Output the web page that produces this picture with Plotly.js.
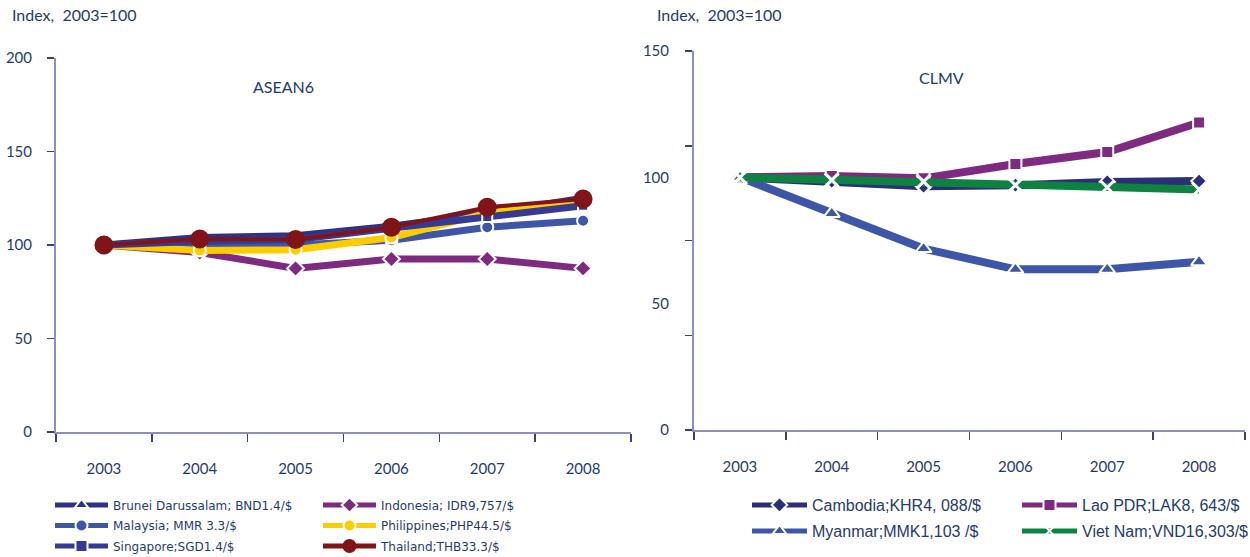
<!DOCTYPE html>
<html>
<head>
<meta charset="utf-8">
<script src="https://cdn.plot.ly/plotly-3.0.1.min.js"></script>
<style>html,body{margin:0;padding:0;background:#fff}#chart{width:1250px;height:557px}</style>
</head>
<body>
<div id="chart"></div>
<script>
// ---- data ----
var years = ['2003', '2004', '2005', '2006', '2007', '2008'];

// ASEAN6 (Index, 2003 = 100)
var brunei      = [100, 104, 105, 110, 117, 125];
var indonesia   = [100, 96, 87.5, 92.5, 92.5, 87.5];
var malaysia    = [100, 100, 100, 102.5, 109.5, 113];
var philippines = [100, 97, 97.5, 104, 117, 123];
var singapore   = [100, 102, 103, 109, 115, 121];
var thailand    = [100, 103.2, 102.9, 109.5, 120.2, 124.6];

// CLMV (Index, 2003 = 100)
var cambodia = [100, 98.5, 96.5, 96.9, 98.2, 98.5];
var laopdr   = [100, 100.5, 99.6, 105.3, 110, 121.7];
var myanmar  = [100, 85.7, 71.8, 63.6, 63.6, 66.6];
var vietnam  = [100, 98.9, 98.3, 96.9, 96, 95.2];

var leftNames  = ['Brunei Darussalam; BND1.4/$', 'Indonesia; IDR9,757/$', 'Malaysia; MMR 3.3/$',
                  'Philippines;PHP44.5/$', 'Singapore;SGD1.4/$', 'Thailand;THB33.3/$'];
var rightNames = ['Cambodia;KHR4, 088/$', 'Lao PDR;LAK8, 643/$', 'Myanmar;MMK1,103 /$', 'Viet Nam;VND16,303/$'];

var leftYTicks   = [0, 50, 100, 150, 200];
var rightYLabels = [0, 50, 100, 150];
var rightYTicks  = [0, 37.5, 75, 112.5, 150];

// ---- styling ----
var NAVY = '#1F3A6E';
var AXIS = '#8C8FBF';
var TICK = '#3A3F80';
var tickFont = {family: 'Lato, "Open Sans", sans-serif', size: 15, color: NAVY};

function tr(y, name, color, width, symbol, msize, mcolor, mline, xa, ya, legend, lw) {
  var t = {
    type: 'scatter', mode: 'lines+markers', x: years, y: y, name: name,
    xaxis: xa, yaxis: ya, legend: legend,
    line: {color: color, width: width},
    marker: {symbol: symbol, size: msize, color: mcolor, line: {color: mline, width: 2}},
    hoverinfo: 'skip'
  };
  if (lw) t.legendwidth = lw;
  return t;
}

var data = [
  tr(brunei, leftNames[0], '#2E3184', 7, 'triangle-up', 11, '#2E3184', '#ffffff', 'x', 'y', 'legend'),
  tr(indonesia, leftNames[1], '#7E2A80', 7, 'diamond', 13, '#7E2A80', '#ffffff', 'x', 'y', 'legend', 190),
  tr(malaysia, leftNames[2], '#3D56A8', 7, 'circle', 12, '#3D56A8', '#ffffff', 'x', 'y', 'legend2'),
  tr(philippines, leftNames[3], '#FFCC00', 7, 'circle', 12, '#FFCC00', '#ffffff', 'x', 'y', 'legend2', 190),
  tr(singapore, leftNames[4], '#363A92', 7, 'square', 10, '#363A92', '#ffffff', 'x', 'y', 'legend3'),
  tr(thailand, leftNames[5], '#7F1518', 4, 'circle', 17, '#7F1518', '#7F1518', 'x', 'y', 'legend3', 190),

  tr(cambodia, rightNames[0], '#2B2F78', 8, 'diamond', 12, '#2B2F78', '#ffffff', 'x2', 'y2', 'legend4'),
  tr(laopdr, rightNames[1], '#7E2A80', 8, 'square', 12, '#7E2A80', '#ffffff', 'x2', 'y2', 'legend4', 172),
  tr(myanmar, rightNames[2], '#3D56A8', 8, 'triangle-up', 14, '#3D56A8', '#ffffff', 'x2', 'y2', 'legend5'),
  tr(vietnam, rightNames[3], '#0E8341', 8, 'x-thin-open', 14, '#ffffff', '#ffffff', 'x2', 'y2', 'legend5', 172)
];
data[9].marker.line = {color: '#ffffff', width: 3};

function xaxis(domain, anchor) {
  return {
    domain: domain, anchor: anchor, type: 'category', range: [-0.5, 5.5],
    showline: true, linecolor: AXIS, linewidth: 2, tickson: 'boundaries',
    ticks: 'outside', ticklen: 8, tickwidth: 1.5, tickcolor: TICK,
    showgrid: false, zeroline: false, tickfont: tickFont, ticklabelstandoff: 22,
    fixedrange: true, automargin: false
  };
}

var legBase = {
  orientation: 'h', xanchor: 'left', yanchor: 'middle', bgcolor: 'rgba(0,0,0,0)',
  itemsizing: 'constant', entrywidthmode: 'pixels',
  itemclick: false, itemdoubleclick: false
};
var leftLegFont  = {family: '"DejaVu Sans", Verdana, sans-serif', size: 12, color: NAVY};
var rightLegFont = {family: '"Liberation Sans", Arial, sans-serif', size: 16, color: NAVY};
function leg(x, y, font, iw, ew) {
  return Object.assign({}, legBase, {x: x, y: y, font: font, itemwidth: iw, entrywidth: ew});
}

var layout = {
  width: 1250, height: 557,
  margin: {l: 0, r: 0, t: 0, b: 0, autoexpand: false},
  paper_bgcolor: '#ffffff', plot_bgcolor: 'rgba(0,0,0,0)',
  showlegend: true,
  xaxis: xaxis([56 / 1250, 631 / 1250], 'y'),
  yaxis: {
    domain: [1 - 432 / 557, 1 - 58 / 557], anchor: 'x', range: [0, 200],
    tickvals: leftYTicks, showline: true, linecolor: AXIS, linewidth: 2,
    ticks: 'outside', ticklen: 7, tickwidth: 1.5, tickcolor: TICK,
    showgrid: false, zeroline: false, tickfont: tickFont, ticklabelstandoff: 12,
    fixedrange: true, automargin: false
  },
  xaxis2: xaxis([694 / 1250, 1245 / 1250], 'y2'),
  yaxis2: {
    domain: [1 - 430 / 557, 1 - 51 / 557], anchor: 'x2', range: [0, 150],
    tickvals: rightYLabels, ticks: '', showline: true, linecolor: AXIS, linewidth: 2,
    minor: {tickvals: rightYTicks, ticks: 'outside', ticklen: 7, tickwidth: 1.5, tickcolor: TICK, showgrid: false},
    showgrid: false, zeroline: false, tickfont: tickFont, ticklabelstandoff: 20,
    fixedrange: true, automargin: false
  },
  legend:  leg(50 / 1250, 1 - 505 / 557, leftLegFont, 53, 200),
  legend2: leg(50 / 1250, 1 - 525.5 / 557, leftLegFont, 53, 200),
  legend3: leg(50 / 1250, 1 - 546 / 557, leftLegFont, 53, 200),
  legend4: leg(747 / 1250, 1 - 505 / 557, rightLegFont, 55, 200),
  legend5: leg(747 / 1250, 1 - 531 / 557, rightLegFont, 55, 200),
  annotations: [
    {text: 'Index,  2003=100', xref: 'paper', yref: 'paper', x: 10 / 1250, y: 1 - 14 / 557,
     xanchor: 'left', yanchor: 'middle', showarrow: false, font: {family: tickFont.family, size: 16, color: NAVY}},
    {text: 'Index,  2003=100', xref: 'paper', yref: 'paper', x: 655 / 1250, y: 1 - 14 / 557,
     xanchor: 'left', yanchor: 'middle', showarrow: false, font: {family: tickFont.family, size: 16, color: NAVY}},
    {text: 'ASEAN6', xref: 'paper', yref: 'paper', x: 283 / 1250, y: 1 - 86 / 557,
     xanchor: 'center', yanchor: 'middle', showarrow: false, font: {family: tickFont.family, size: 16, color: NAVY}},
    {text: 'CLMV', xref: 'paper', yref: 'paper', x: 941 / 1250, y: 1 - 77 / 557,
     xanchor: 'center', yanchor: 'middle', showarrow: false, font: {family: tickFont.family, size: 16, color: NAVY}}
  ]
};

Plotly.newPlot('chart', data, layout, {displayModeBar: false, staticPlot: true});
</script>
</body>
</html>
